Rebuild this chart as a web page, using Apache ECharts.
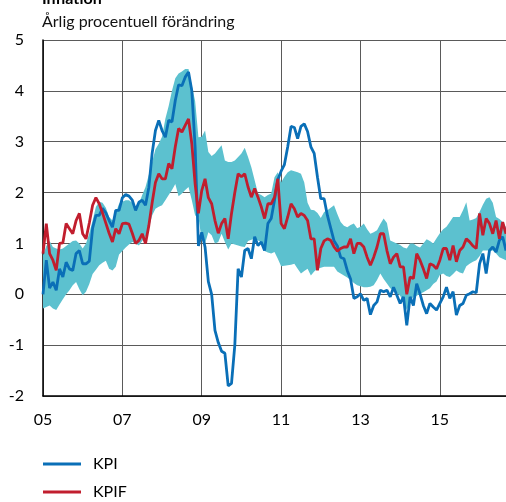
<!DOCTYPE html>
<html>
<head>
<meta charset="utf-8">
<script src="https://cdn.jsdelivr.net/npm/echarts@6/dist/echarts.min.js"></script>
<style>
html,body{margin:0;padding:0;background:#fff;}
#chart{width:506px;height:502px;}
</style>
</head>
<body>
<div id="chart"></div>
<script>
// Monthly data, Jan 2005 .. Sep 2016
var startYear = 2005;
var monthCount = 141;
var months = [];
for (var k = 0; k < monthCount; k++) {
  var yy = startYear + Math.floor(k / 12);
  var mm = (k % 12) + 1;
  months.push(yy + '-' + (mm < 10 ? '0' + mm : mm));
}

var kpi = [
  0.00, 0.67, 0.12, 0.24, 0.08, 0.50, 0.34, 0.63, 0.50, 0.47, 0.80, 0.86,
  0.60, 0.60, 0.65, 1.30, 1.55, 1.55, 1.69, 1.60, 1.45, 1.32, 1.65, 1.65,
  1.90, 1.96, 1.93, 1.85, 1.65, 1.81, 1.85, 1.75, 2.10, 2.77, 3.22, 3.42,
  3.22, 3.09, 3.42, 3.39, 3.81, 4.12, 4.10, 4.27, 4.37, 4.00, 2.90, 0.95,
  1.22, 0.93, 0.25, 0.00, -0.71, -0.95, -1.12, -1.16, -1.80, -1.75, -1.00, 0.50,
  0.34, 0.86, 0.90, 0.70, 1.13, 0.96, 1.03, 0.86, 1.39, 1.49, 1.85, 2.25,
  2.42, 2.55, 2.90, 3.30, 3.28, 3.06, 3.30, 3.35, 3.20, 2.90, 2.77, 2.30,
  1.88, 1.88, 1.55, 1.30, 1.05, 0.95, 0.73, 0.70, 0.47, 0.30, -0.08, -0.05,
  0.01, -0.12, -0.08, -0.40, -0.22, -0.15, 0.08, 0.05, 0.08, -0.05, 0.14, -0.02,
  -0.18, -0.05, -0.61, -0.05, -0.22, 0.21, 0.01, -0.22, -0.38, -0.18, -0.25, -0.31,
  -0.18, -0.05, 0.14, -0.08, 0.05, -0.41, -0.22, -0.18, -0.02, 0.01, 0.05, 0.03,
  0.60, 0.80, 0.41, 0.86, 0.93, 0.83, 1.06, 1.13, 0.86
];

var kpif = [
  0.80, 1.39, 0.80, 0.67, 0.47, 1.00, 1.01, 1.39, 1.29, 1.19, 1.45, 1.59,
  1.19, 1.09, 1.40, 1.75, 1.90, 1.78, 1.60, 1.40, 1.20, 1.03, 1.29, 1.19,
  1.39, 1.40, 1.38, 1.20, 1.00, 1.06, 1.19, 1.00, 1.35, 1.80, 2.20, 2.37,
  2.27, 2.27, 2.57, 2.47, 2.90, 3.26, 3.19, 3.32, 3.45, 2.96, 2.17, 1.59,
  2.04, 2.27, 1.90, 1.78, 1.45, 1.20, 1.39, 1.49, 1.09, 1.59, 2.00, 2.37,
  2.31, 2.37, 2.11, 1.91, 2.08, 1.91, 1.72, 1.49, 1.78, 1.78, 1.91, 2.27,
  1.39, 1.29, 1.52, 1.78, 1.68, 1.52, 1.59, 1.55, 1.45, 1.09, 1.09, 0.47,
  0.90, 1.05, 1.09, 1.06, 0.93, 0.85, 0.90, 0.93, 0.93, 1.09, 0.80, 1.00,
  1.00, 0.93, 0.73, 0.57, 0.73, 0.93, 1.19, 1.19, 0.86, 0.60, 0.73, 0.80,
  0.54, 0.54, 0.00, 0.34, 0.31, 0.80, 0.67, 0.50, 0.31, 0.60, 0.57, 0.50,
  0.67, 0.90, 0.90, 0.67, 0.96, 0.64, 0.86, 0.93, 1.09, 1.03, 0.95, 0.90,
  1.59, 1.16, 1.49, 1.39, 1.19, 1.45, 1.09, 1.42, 1.19
];

// Range of other inflation measures (shaded band)
var bandHigh = [
  0.77, 0.95, 1.05, 0.93, 0.90, 0.88, 0.90, 0.95, 1.00, 1.05, 1.06, 1.00,
  0.90, 1.00, 1.20, 1.45, 1.72, 1.82, 1.80, 1.70, 1.52, 1.45, 1.60, 1.78,
  1.82, 1.85, 1.85, 1.80, 1.72, 1.78, 1.95, 2.11, 2.35, 2.60, 2.85, 2.96,
  3.10, 3.45, 3.70, 4.00, 4.25, 4.34, 4.38, 4.43, 4.43, 4.10, 3.80, 3.09,
  3.10, 3.22, 2.80, 2.72, 2.77, 2.85, 2.93, 2.63, 2.60, 2.60, 2.63, 2.70,
  2.77, 2.88, 2.70, 2.50, 2.24, 1.98, 1.95, 1.91, 1.95, 1.98, 2.30, 2.40,
  2.20, 2.31, 2.40, 2.44, 2.42, 2.40, 2.37, 2.20, 1.80, 1.66, 1.65, 1.60,
  1.50, 1.62, 1.65, 1.70, 1.75, 1.58, 1.42, 1.35, 1.32, 1.36, 1.39, 1.30,
  1.33, 1.39, 1.28, 1.19, 1.22, 1.26, 1.38, 1.49, 1.40, 1.06, 1.03, 1.00,
  0.97, 0.92, 0.90, 1.00, 1.00, 0.95, 0.92, 1.00, 1.08, 1.05, 1.00, 1.10,
  1.20, 1.28, 1.33, 1.42, 1.52, 1.52, 1.52, 1.65, 1.81, 1.45, 1.47, 1.50,
  1.62, 1.76, 1.88, 1.91, 1.80, 1.52, 1.48, 1.42, 1.32
];

var bandLow = [
  -0.28, -0.25, -0.22, -0.28, -0.31, -0.20, -0.10, 0.00, 0.08, 0.18, 0.24, 0.10,
  -0.02, 0.05, 0.20, 0.40, 0.48, 0.57, 0.62, 0.66, 0.50, 0.47, 0.54, 0.78,
  0.85, 0.92, 0.98, 1.03, 1.00, 0.96, 1.05, 1.13, 1.30, 1.55, 1.68, 1.72,
  1.75, 1.85, 1.95, 2.05, 2.17, 1.93, 1.98, 2.05, 2.11, 1.85, 1.55, 1.52,
  1.06, 1.00, 1.22, 1.16, 1.00, 1.03, 1.19, 1.03, 0.88, 1.00, 0.98, 0.96,
  0.94, 0.93, 1.05, 1.07, 1.09, 1.06, 1.03, 0.85, 0.82, 0.80, 0.83, 0.70,
  0.55, 0.56, 0.57, 0.58, 0.60, 0.50, 0.41, 0.46, 0.50, 0.37, 0.45, 0.50,
  0.52, 0.54, 0.54, 0.54, 0.54, 0.45, 0.41, 0.37, 0.33, 0.28, 0.22, 0.18,
  0.16, 0.14, 0.14, 0.15, 0.18, 0.28, 0.41, 0.30, 0.21, 0.12, 0.08, 0.03,
  -0.03, -0.15, -0.31, -0.15, -0.05, -0.03, 0.01, 0.04, 0.08, 0.12, 0.20, 0.25,
  0.38, 0.41, 0.36, 0.34, 0.40, 0.47, 0.43, 0.41, 0.55, 0.60, 0.64, 0.67,
  0.75, 0.86, 0.86, 0.86, 0.86, 0.80, 0.73, 0.70, 0.67
];

var yTicks = [-2, -1, 0, 1, 2, 3, 4, 5];
var titleText = 'Inflation';
var subtitleText = 'Årlig procentuell förändring';
var seriesNames = ['KPI', 'KPIF'];

var bandWidth = bandHigh.map(function (h, i) { return +(h - bandLow[i]).toFixed(2); });

var FONT = 'Lato, "Open Sans", sans-serif';
var chart = echarts.init(document.getElementById('chart'), null, { renderer: 'canvas' });

function tickEvery2Years(idx) { return idx % 24 === 0; }

chart.setOption({
  animation: false,
  backgroundColor: '#ffffff',
  graphic: [
    { type: 'text', left: 42, top: -9, style: { text: titleText, font: 'bold 16px ' + FONT, fill: '#000' } },
    { type: 'text', left: 42, top: 14, style: { text: subtitleText, font: '16px ' + FONT, fill: '#111' } }
  ],
  grid: { left: 43, right: 0, top: 40, bottom: 106, containLabel: false },
  legend: {
    data: seriesNames,
    orient: 'vertical',
    left: 43,
    top: 456,
    padding: 0,
    icon: 'rect',
    itemWidth: 38,
    itemHeight: 3,
    itemGap: 12,
    textStyle: { fontFamily: FONT, fontSize: 16, color: '#000', padding: [0, 0, 0, 7], lineHeight: 16 }
  },
  xAxis: {
    type: 'category',
    data: months,
    boundaryGap: false,
    axisLine: { show: true, onZero: false, lineStyle: { color: '#000', width: 1.5 } },
    axisTick: { show: false },
    axisLabel: {
      interval: tickEvery2Years,
      formatter: function (v) { return v.substring(2, 4); },
      fontFamily: FONT, fontSize: 16, color: '#000', margin: 16
    },
    splitLine: { show: true, interval: tickEvery2Years, lineStyle: { color: '#5a5a5a', width: 1 } }
  },
  yAxis: {
    type: 'value',
    min: yTicks[0],
    max: yTicks[yTicks.length - 1],
    interval: 1,
    axisLine: { show: true, lineStyle: { color: '#000', width: 1.5 } },
    axisTick: { show: false },
    axisLabel: { fontFamily: FONT, fontSize: 16, color: '#000', margin: 19 },
    splitLine: { show: true, lineStyle: { color: '#5a5a5a', width: 1 } }
  },
  series: [
    {
      name: 'bandLow', type: 'line', data: bandLow, stack: 'band', stackStrategy: 'all',
      symbol: 'none', lineStyle: { opacity: 0 }, silent: true, z: 1
    },
    {
      name: 'bandRange', type: 'line', data: bandWidth, stack: 'band', stackStrategy: 'all',
      symbol: 'none', lineStyle: { opacity: 0 }, areaStyle: { color: '#5cc1cf', opacity: 1 }, silent: true, z: 1
    },
    {
      name: 'KPI', type: 'line', data: kpi, symbol: 'none',
      itemStyle: { color: '#0a6fb7' }, lineStyle: { color: '#0a6fb7', width: 2.8 }, z: 3
    },
    {
      name: 'KPIF', type: 'line', data: kpif, symbol: 'none',
      itemStyle: { color: '#c11e2e' }, lineStyle: { color: '#c11e2e', width: 2.8 }, z: 4
    }
  ]
});
</script>
</body>
</html>
